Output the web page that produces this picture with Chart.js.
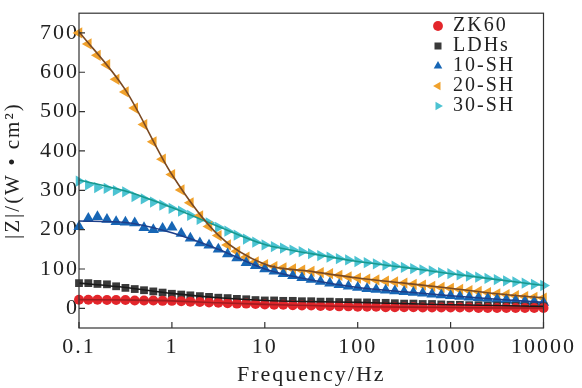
<!DOCTYPE html>
<html>
<head>
<meta charset="utf-8">
<script src="https://cdn.jsdelivr.net/npm/chart.js@4.4.1/dist/chart.umd.min.js"></script>
<style>
  html, body { margin: 0; padding: 0; background: #fff; }
  #wrap { width: 582px; height: 388px; }
</style>
</head>
<body>
<div id="wrap"><canvas id="bodeChart" width="582" height="388"></canvas></div>
<script>
// frequency points (Hz), 10 per decade
var freq = [
  0.1, 0.126, 0.158, 0.2, 0.251, 0.316, 0.398, 0.501, 0.631, 0.794,
  1, 1.26, 1.58, 2, 2.51, 3.16, 3.98, 5.01, 6.31, 7.94,
  10, 12.6, 15.8, 20, 25.1, 31.6, 39.8, 50.1, 63.1, 79.4,
  100, 126, 158, 200, 251, 316, 398, 501, 631, 794,
  1000, 1259, 1585, 1995, 2512, 3162, 3981, 5012, 6310, 7943,
  10000
];

// |Z| measured values
var zk60 = [22, 22, 22, 21, 21, 21, 20, 20, 20, 19, 19, 18, 17, 16, 15, 14, 13, 12, 12, 11,
  10, 9, 9, 8, 7, 7, 6, 6, 5, 5, 4, 4, 4, 3, 3, 3, 3, 2, 2, 2, 2, 2, 2, 1, 1, 1, 1, 1, 1, 1, 1];
var ldhs = [64, 64, 62, 61, 56, 52, 49, 46, 43, 40, 37, 35, 33, 31, 29, 27, 26, 24, 23, 21,
  20, 20, 19, 19, 18, 18, 17, 17, 16, 16, 15, 15, 14, 14, 13, 12, 12, 11, 11, 10,
  9, 9, 8, 8, 7, 7, 6, 6, 5, 5, 5];
var sh10 = [207, 228, 233, 226, 220, 219, 217, 205, 200, 203, 206, 190, 178, 166, 160, 150, 138, 128, 116, 108,
  100, 94, 88, 83, 78, 73, 68, 64, 60, 56, 53, 50, 48, 46, 44, 42, 40, 38, 36, 34,
  32, 30, 28, 27, 25, 23, 22, 20, 18, 17, 15];
var sh20 = [700, 672, 643, 619, 582, 550, 509, 467, 423, 379, 340, 301, 268, 235, 208, 185, 161, 145, 130, 118,
  111, 106, 103, 100, 97, 94, 91, 88, 84, 80, 77, 74, 72, 69, 67, 64, 61, 59, 56, 53,
  51, 48, 45, 43, 40, 37, 35, 32, 30, 28, 26];
var sh30 = [323, 314, 307, 305, 299, 296, 284, 278, 270, 262, 254, 247, 236, 226, 217, 206, 196, 186, 176, 168,
  161, 157, 153, 148, 144, 139, 134, 130, 126, 123, 119, 116, 113, 110, 107, 104, 101, 98, 95, 91,
  88, 85, 82, 79, 76, 73, 70, 67, 64, 61, 58];

// fitted curves (half decade points)
var fitFreq = [0.1, 0.316, 1, 3.16, 10, 31.6, 100, 316, 1000, 3162, 10000];
var zk60Fit = [22, 21, 19, 14, 10, 7, 4, 3, 2, 1, 1];
var ldhsFit = [64, 53, 38, 27, 20, 17, 15, 12, 9, 7, 5];
var sh10Fit = [222, 218, 192, 150, 100, 72, 53, 42, 32, 23, 15];
var sh20Fit = [703, 555, 340, 186, 112, 94, 77, 64, 51, 37, 27];
var sh30Fit = [326, 298, 256, 208, 162, 139, 119, 104, 88, 73, 58];

var xTicks = [0.1, 1, 10, 100, 1000, 10000];
var yTicks = [0, 100, 200, 300, 400, 500, 600, 700];

var serif = 'Liberation Serif, Times New Roman, serif';

var pts = function(xs, ys) {
  return ys.map(function(v, i) { return { x: xs[i], y: v }; });
};

var markerSet = function(label, vals, color, style, radius, rot) {
  return {
    label: label, data: pts(freq, vals), showLine: false, clip: false,
    pointStyle: style, pointRadius: radius, pointRotation: rot || 0,
    backgroundColor: color, borderColor: color, borderWidth: 0,
    pointBackgroundColor: color, pointBorderWidth: 0, order: 2
  };
};
var fitSet = function(vals, color) {
  return {
    label: 'fit', isFit: true, data: pts(fitFreq, vals), showLine: true,
    pointRadius: 0, borderColor: color, borderWidth: 1.6,
    cubicInterpolationMode: 'monotone', order: 1
  };
};

var framePlugin = {
  id: 'frame',
  beforeLayout: function(chart) { chart.ctx.letterSpacing = '2px'; },
  beforeDraw: function(chart) { chart.ctx.letterSpacing = '2px'; },
  afterLayout: function(chart) {
    var lg = chart.legend;
    lg.left = 433; lg.top = 16;
    lg.right = lg.left + lg.width; lg.bottom = lg.top + lg.height;
  },
  afterDraw: function(chart) {
    var ctx = chart.ctx, a = chart.chartArea;
    var xs = chart.scales.x, ys = chart.scales.y;
    ctx.save();
    ctx.strokeStyle = '#333';
    ctx.lineWidth = 1.2;
    ctx.strokeRect(a.left, a.top, a.right - a.left, a.bottom - a.top);
    ctx.beginPath();
    xTicks.forEach(function(v) {
      var px = xs.getPixelForValue(v);
      ctx.moveTo(px, a.bottom); ctx.lineTo(px, a.bottom - 6);
    });
    yTicks.forEach(function(v) {
      var py = ys.getPixelForValue(v);
      ctx.moveTo(a.left, py); ctx.lineTo(a.left + 6, py);
    });
    ctx.stroke();
    ctx.restore();
  }
};

var ctx = document.getElementById('bodeChart').getContext('2d');
var bodeChart = new Chart(ctx, {
  type: 'scatter',
  data: {
    datasets: [
      markerSet('ZK60', zk60, '#e3262b', 'circle', 5),
      markerSet('LDHs', ldhs, '#3a3a3a', 'rect', 5.5),
      markerSet('10-SH', sh10, '#1766b5', 'triangle', 6.5),
      markerSet('20-SH', sh20, '#f0a12c', 'triangle', 6.5, 270),
      markerSet('30-SH', sh30, '#4cc3d2', 'triangle', 6.5, 90),
      fitSet(zk60Fit, '#a01c20'),
      fitSet(ldhsFit, '#1a1a1a'),
      fitSet(sh10Fit, '#1d3f8a'),
      fitSet(sh20Fit, '#7b4a22'),
      fitSet(sh30Fit, '#17998f')
    ]
  },
  options: {
    responsive: false,
    animation: false,
    layout: { padding: { top: 1, right: 34, left: 0, bottom: 0 } },
    plugins: {
      tooltip: { enabled: false },
      legend: {
        position: 'chartArea',
        align: 'start',
        labels: {
          usePointStyle: true,
          boxWidth: 10,
          boxHeight: 7,
          padding: 0,
          color: '#222',
          font: { family: serif, size: 20 },
          filter: function(item, data) { return !data.datasets[item.datasetIndex].isFit; }
        }
      }
    },
    scales: {
      x: {
        type: 'logarithmic',
        min: 0.1,
        max: 10000,
        afterBuildTicks: function(s) { s.ticks = xTicks.map(function(v) { return { value: v }; }); },
        afterFit: function(s) { s.height = 60; },
        ticks: {
          autoSkip: false, maxRotation: 0, padding: 6, color: '#222',
          font: { family: serif, size: 22 },
          callback: function(v) { return String(v); }
        },
        grid: { display: false, drawTicks: false },
        border: { display: false },
        title: { display: true, text: 'Frequency/Hz', color: '#222', padding: 0, font: { family: serif, size: 22 } }
      },
      y: {
        min: -50,
        max: 750,
        afterBuildTicks: function(s) { s.ticks = yTicks.map(function(v) { return { value: v }; }); },
        afterFit: function(s) { s.width = 79; },
        ticks: { padding: 0, color: '#222', font: { family: serif, size: 22 } },
        grid: { display: false, drawTicks: false },
        border: { display: false },
        title: { display: true, text: '|Z|/(W • cm²)', color: '#222', padding: { top: 1, bottom: 0 }, font: { family: serif, size: 21 } }
      }
    }
  },
  plugins: [framePlugin]
});
</script>
</body>
</html>
